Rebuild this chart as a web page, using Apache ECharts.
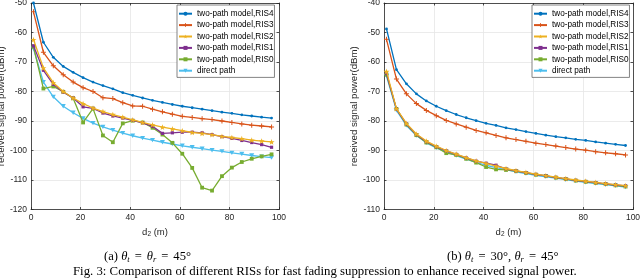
<!DOCTYPE html>
<html>
<head>
<meta charset="utf-8">
<script src="https://cdn.jsdelivr.net/npm/echarts@6/dist/echarts.min.js"></script>
<style>
html,body{margin:0;padding:0;background:#fff;}
#c{width:640px;height:279px;}
</style>
</head>
<body>
<div id="c"></div>
<script>
// ---------- data ----------
const d2 = [1,5,9,13,17,21,25,29,33,37,41,45,49,53,57,61,65,69,73,77,81,85,89,93,97];
const seriesNames = ['two-path model,RIS4','two-path model,RIS3','two-path model,RIS2','two-path model,RIS1','two-path model,RIS0','direct path'];

// (a) theta_t = theta_r = 45
const aRIS4 = [-50.0,-63.3,-68.4,-71.5,-73.5,-75.3,-76.8,-78.0,-79.1,-80.4,-81.3,-82.2,-83.0,-83.7,-84.4,-85.0,-85.5,-86.0,-86.5,-87.0,-87.4,-87.9,-88.3,-88.7,-89.0];
const aRIS3 = [-53.0,-66.7,-71.3,-74.3,-76.8,-78.7,-80.0,-82.1,-82.4,-83.8,-84.9,-85.0,-86.0,-86.9,-87.7,-88.4,-88.8,-89.2,-89.5,-90.0,-90.5,-91.0,-91.4,-91.7,-92.0];
const aRIS2 = [-62.4,-72.0,-77.0,-80.0,-82.2,-84.1,-85.6,-86.8,-87.8,-88.7,-89.6,-90.5,-91.3,-92.1,-92.7,-93.3,-93.9,-94.2,-94.6,-95.2,-95.6,-96.0,-96.5,-96.8,-97.1];
const aRIS1 = [-64.5,-72.8,-77.6,-80.2,-82.2,-85.2,-85.7,-87.3,-88.3,-89.0,-89.8,-90.6,-91.8,-94.2,-94.0,-93.8,-93.8,-94.0,-94.6,-95.3,-95.9,-96.6,-97.3,-98.0,-98.9];
const aRIS0 = [-64.8,-79.0,-78.3,-80.1,-82.3,-90.5,-85.8,-94.9,-97.2,-90.8,-89.9,-90.5,-92.3,-94.6,-97.4,-101.1,-105.9,-112.6,-113.6,-108.7,-105.8,-103.9,-102.8,-102.0,-101.3];
const aDirect = [-65.5,-76.8,-81.8,-85.0,-87.2,-89.1,-90.7,-92.0,-93.1,-94.1,-95.0,-95.8,-96.5,-97.2,-97.8,-98.4,-98.9,-99.4,-99.9,-100.3,-100.8,-101.2,-101.7,-102.1,-102.4];

// (b) theta_t = 30, theta_r = 45
const bRIS4 = [-48.8,-62.6,-67.4,-70.8,-73.2,-75.0,-76.5,-77.8,-78.9,-79.9,-80.8,-81.5,-82.3,-82.9,-83.6,-84.2,-84.8,-85.3,-85.7,-86.2,-86.6,-87.1,-87.5,-87.9,-88.3];
const bRIS3 = [-52.3,-65.8,-70.8,-74.1,-76.4,-78.2,-79.8,-81.0,-82.1,-83.2,-84.0,-84.9,-85.7,-86.3,-86.9,-87.5,-88.0,-88.5,-89.0,-89.5,-89.9,-90.4,-90.8,-91.1,-91.5];
const bRIS2 = [-63.2,-75.8,-80.8,-84.4,-86.8,-88.5,-90.0,-91.2,-92.4,-93.5,-94.4,-95.3,-96.1,-96.8,-97.4,-98.0,-98.5,-99.0,-99.5,-100.0,-100.4,-100.8,-101.2,-101.6,-101.9];
const bRIS1 = [-63.8,-76.0,-81.0,-84.6,-87.0,-88.7,-90.1,-91.3,-92.5,-93.6,-94.3,-95.0,-96.2,-96.9,-97.5,-98.1,-98.6,-99.1,-99.6,-100.1,-100.5,-100.9,-101.3,-101.7,-102.0];
const bRIS0 = [-64.3,-75.9,-81.2,-84.8,-87.3,-88.9,-90.9,-91.5,-92.8,-94.1,-95.6,-96.4,-96.6,-97.0,-97.6,-98.2,-98.6,-99.2,-99.7,-100.2,-100.6,-101.0,-101.4,-101.8,-102.2];
const bDirect = [-64.8,-76.4,-81.5,-84.9,-87.4,-89.1,-90.5,-91.7,-92.9,-94.0,-95.0,-95.8,-96.5,-97.2,-97.8,-98.4,-98.9,-99.4,-99.9,-100.4,-100.8,-101.2,-101.6,-102.0,-102.4];

const xTicks = {min: 0, max: 100, interval: 20};
const yTicksA = {min: -120, max: -50, interval: 10};
const yTicksB = {min: -110, max: -40, interval: 10};

const yLabel = 'received signal power(dBm)';
const captionA = '{n|(a) }{i|θ}{s|t}{e|=}{i|θ}{s|r}{e|=}{n|45°}';
const captionB = '{n|(b) }{i|θ}{s|t}{e|=}{n|30°, }{i|θ}{s|r}{e|=}{n|45°}';
const figCaption = 'Fig. 3: Comparison of different RISs for fast fading suppression to enhance received signal power.';

// ---------- style ----------
const colors = ['#0072BD','#D95319','#EDB120','#7E2F8E','#77AC30','#4DBEEE'];
const symbols = [
  'circle',
  'path://M4,0 H6 V4 H10 V6 H6 V10 H4 V6 H0 V4 H4 Z',
  'path://M5,0 L6.2,3.6 L10,3.6 L7,5.9 L8.1,9.5 L5,7.3 L1.9,9.5 L3,5.9 L0,3.6 L3.8,3.6 Z',
  'rect',
  'rect',
  'path://M0,0 L10,0 L5,8.7 Z'
];
const symSizes = [2.8, 5, 6, 3.2, 3.8, 5];
const SANS = 'Liberation Sans, Arial, sans-serif';
const SERIF = 'Liberation Serif, Times New Roman, serif';
const axisCol = '#262626';

const gridsPos = [
  {left: 31, top: 3, width: 248, height: 206.5},
  {left: 384, top: 3, width: 249, height: 206.5}
];

function mkX(gi, pos) {
  const main = pos === 'bottom';
  return Object.assign({
    gridIndex: gi, type: 'value', position: pos,
    axisLine: {show: true, onZero: false, lineStyle: {color: axisCol, width: 0.8}},
    axisTick: {show: true, inside: true, length: 2.5, lineStyle: {color: axisCol, width: 0.8}},
    axisLabel: {show: main, fontSize: 8.5, color: axisCol, fontFamily: SANS, margin: 4},
    splitLine: {show: main, lineStyle: {color: '#e6e6e6', width: 0.8}},
    name: main ? '{d|d}{s|2}{d| (m)}' : '',
    nameLocation: 'middle', nameGap: 14,
    nameTextStyle: {fontFamily: SANS, color: axisCol, rich: {
      d: {fontSize: 9.5, fontFamily: SANS, color: axisCol, lineHeight: 11},
      s: {fontSize: 6.5, fontFamily: SANS, color: axisCol, lineHeight: 6, verticalAlign: 'bottom'}
    }}
  }, xTicks);
}
function mkY(gi, pos, ticks, gap) {
  const main = pos === 'left';
  return Object.assign({
    gridIndex: gi, type: 'value', position: pos,
    axisLine: {show: true, onZero: false, lineStyle: {color: axisCol, width: 0.8}},
    axisTick: {show: true, inside: true, length: 2.5, lineStyle: {color: axisCol, width: 0.8}},
    axisLabel: {show: main, fontSize: 8.5, color: axisCol, fontFamily: SANS, margin: 4},
    splitLine: {show: main, lineStyle: {color: '#e6e6e6', width: 0.8}},
    name: main ? yLabel : '',
    nameLocation: 'middle', nameGap: gap, nameRotate: 90,
    nameTextStyle: {fontSize: 9.7, fontFamily: SANS, color: axisCol}
  }, ticks);
}

const dataA = [aRIS4, aRIS3, aRIS2, aRIS1, aRIS0, aDirect];
const dataB = [bRIS4, bRIS3, bRIS2, bRIS1, bRIS0, bDirect];

const series = [];
[dataA, dataB].forEach((set, gi) => {
  set.forEach((vals, k) => {
    series.push({
      type: 'line', name: seriesNames[k],
      xAxisIndex: gi * 2, yAxisIndex: gi * 2,
      data: d2.map((x, i) => [x, vals[i]]),
      symbol: symbols[k], symbolSize: symSizes[k], symbolKeepAspect: true,
      showSymbol: true, showAllSymbol: true,
      lineStyle: {color: colors[k], width: 1.3},
      itemStyle: {color: colors[k]},
      emphasis: {disabled: true},
      animation: false, z: 2 + (6 - k) * 0.01
    });
  });
});

function mkLegend(left) {
  return {
    left: left, top: 5, orient: 'vertical',
    data: seriesNames,
    itemWidth: 13, itemHeight: 5, itemGap: 0,
    padding: [3, 1, 1, 1],
    backgroundColor: '#fff', borderColor: '#666', borderWidth: 0.8, borderRadius: 0,
    textStyle: {fontSize: 8.2, fontFamily: SANS, color: '#000', lineHeight: 11.4},
    selectedMode: false, z: 10
  };
}

const rich = {
  n: {fontFamily: SERIF, fontSize: 12.6, fontWeight: 'normal', color: '#000', lineHeight: 15},
  e: {fontFamily: SERIF, fontSize: 12.6, fontWeight: 'normal', color: '#000', lineHeight: 15, padding: [0, 5, 0, 5]},
  i: {fontFamily: SERIF, fontSize: 12.6, fontWeight: 'normal', fontStyle: 'italic', color: '#000', lineHeight: 15},
  s: {fontFamily: SERIF, fontSize: 8.5, fontWeight: 'normal', fontStyle: 'italic', color: '#000', lineHeight: 9, verticalAlign: 'bottom'}
};

const option = {
  backgroundColor: '#fff',
  animation: false,
  grid: gridsPos.map(g => Object.assign({outerBoundsMode: 'none', containLabel: false}, g)),
  xAxis: [mkX(0,'bottom'), mkX(0,'top'), mkX(1,'bottom'), mkX(1,'top')],
  yAxis: [mkY(0,'left',yTicksA,21), mkY(0,'right',yTicksA,0), mkY(1,'left',yTicksB,20), mkY(1,'right',yTicksB,0)],
  legend: [mkLegend(177), mkLegend(532)],
  title: [
    {text: captionA, left: 104, top: 249, padding: 0, textStyle: {fontWeight: 'normal', rich: rich}},
    {text: captionB, left: 447, top: 249, padding: 0, textStyle: {fontWeight: 'normal', rich: rich}},
    {text: figCaption, left: 73, top: 264.5, padding: 0,
     textStyle: {fontFamily: SERIF, fontSize: 12.8, fontWeight: 'normal', color: '#000', lineHeight: 14}}
  ],
  series: series
};

const chart = echarts.init(document.getElementById('c'), null, {renderer: 'canvas'});
chart.setOption(option);
</script>
</body>
</html>
